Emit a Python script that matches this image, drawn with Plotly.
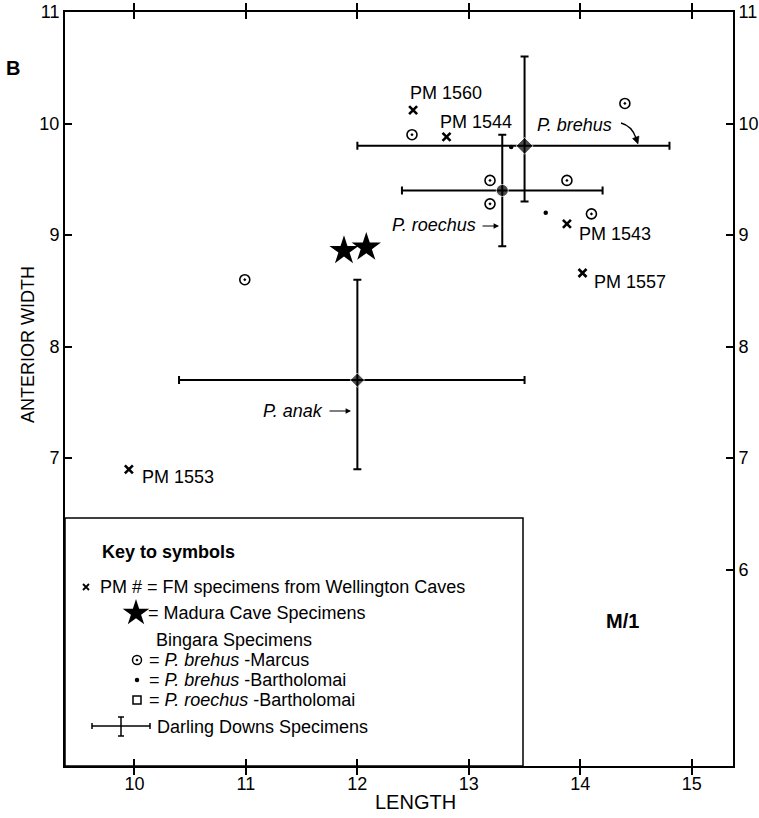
import plotly.graph_objects as go

# ---------------- data ----------------
pm_ids = ["PM 1560", "PM 1544", "PM 1543", "PM 1557", "PM 1553"]
pm_length = [12.50, 12.80, 13.88, 14.02, 9.95]
pm_width = [10.12, 9.88, 9.10, 8.66, 6.90]

madura_length = [11.88, 12.08]
madura_width = [8.86, 8.89]

marcus_length = [14.40, 12.49, 13.19, 13.19, 13.88, 14.10, 10.99]
marcus_width = [10.18, 9.90, 9.49, 9.28, 9.49, 9.19, 8.60]

barth_length = [13.38, 13.69]
barth_width = [9.79, 9.20]

dd_names = ["P. anak", "P. roechus", "P. brehus"]
dd_length = [12.0, 13.3, 13.5]
dd_width = [7.7, 9.4, 9.8]
dd_length_min = [10.4, 12.4, 12.0]
dd_length_max = [13.5, 14.2, 14.8]
dd_width_min = [6.9, 8.9, 9.3]
dd_width_max = [8.6, 9.9, 10.6]

x_ticks = [10, 11, 12, 13, 14, 15]
y_ticks_left = [7, 8, 9, 10, 11]
y_ticks_right = [6, 7, 8, 9, 10, 11]

# ---------------- styling ----------------
W, H = 759, 818
L, R, T, B = 65, 733, 12, 766
FONT = "Liberation Sans, Arial, Helvetica, sans-serif"
X_RANGE = [9.377, 15.37]
Y_RANGE = [4.24, 11.0]


def px(x):
    return (x - L) / (R - L)


def py(y):
    return (B - y) / (B - T)


label_shift = {  # pixel offsets of the PM labels relative to their points
    "PM 1560": (-5, 17),
    "PM 1544": (-9, 15),
    "PM 1543": (10, -10),
    "PM 1557": (9, -9),
    "PM 1553": (11, -8),
}

fig = go.Figure()

# Darling Downs means with ranges
fig.add_trace(go.Scatter(
    x=dd_length, y=dd_width, mode="markers",
    marker=dict(symbol=["diamond", "circle", "diamond"], size=[11, 12, 13], color="black"),
    error_x=dict(type="data", symmetric=False,
                 array=[a - m for a, m in zip(dd_length_max, dd_length)],
                 arrayminus=[m - a for a, m in zip(dd_length_min, dd_length)],
                 thickness=2, width=4, color="black"),
    error_y=dict(type="data", symmetric=False,
                 array=[a - m for a, m in zip(dd_width_max, dd_width)],
                 arrayminus=[m - a for a, m in zip(dd_width_min, dd_width)],
                 thickness=2, width=4, color="black"),
    showlegend=False, hoverinfo="skip"))

# Wellington caves specimens
fig.add_trace(go.Scatter(
    x=pm_length, y=pm_width, mode="markers",
    marker=dict(symbol="x-thin", size=8, line=dict(width=2.6, color="black")),
    showlegend=False))

# Madura cave
fig.add_trace(go.Scatter(
    x=madura_length, y=madura_width, mode="markers",
    marker=dict(symbol="star", size=22, color="black"), showlegend=False))

# Bingara brehus Marcus
fig.add_trace(go.Scatter(
    x=marcus_length, y=marcus_width, mode="markers",
    marker=dict(symbol="circle-open-dot", size=10, color="black", line=dict(width=1.6)),
    showlegend=False))

# Bingara brehus Bartholomai
fig.add_trace(go.Scatter(
    x=barth_length, y=barth_width, mode="markers",
    marker=dict(symbol="circle", size=4.5, color="black"), showlegend=False))

# invisible trace to activate right-hand axis
fig.add_trace(go.Scatter(x=[dd_length[0]], y=[dd_width[0]], yaxis="y2", mode="markers",
                         marker=dict(opacity=0), showlegend=False, hoverinfo="skip"))

# ------------- legend key symbols (pixel space axes x3/y3) -------------
key_sym = [
    dict(symbol="x-thin", size=6, line=dict(width=1.8, color="black"), pos=(86, 587)),
    dict(symbol="star", size=20, color="black", pos=(136, 613)),
    dict(symbol="circle-open-dot", size=9, color="black", line=dict(width=1.5), pos=(137, 660)),
    dict(symbol="circle", size=4.5, color="black", pos=(137, 680)),
    dict(symbol="square-open", size=8, color="black", line=dict(width=1.5), pos=(137, 700)),
]
for k in key_sym:
    p = k.pop("pos")
    fig.add_trace(go.Scatter(x=[p[0]], y=[p[1]], xaxis="x3", yaxis="y3", mode="markers",
                             marker=k, showlegend=False, hoverinfo="skip"))

shapes = []
# legend box
shapes.append(dict(type="rect", xref="x3", yref="y3", x0=L, x1=523, y0=518, y1=B,
                   line=dict(color="black", width=1.5), fillcolor="white", layer="below"))
# darling downs key symbol
for (x0, y0, x1, y1) in [(92, 726, 150, 726), (92, 723, 92, 729), (150, 723, 150, 729),
                         (121, 717, 121, 736), (118, 717, 124, 717), (118, 736, 124, 736)]:
    shapes.append(dict(type="line", xref="x3", yref="y3", x0=x0, y0=y0, x1=x1, y1=y1,
                       line=dict(color="black", width=1.5)))
# curved arrow for P. brehus
shapes.append(dict(type="path", xref="x3", yref="y3", path="M 621 123 Q 632 126 636 138",
                   line=dict(color="black", width=1.3)))
shapes.append(dict(type="path", xref="x3", yref="y3",
                   path="M 638 144 L 639 136 L 632.5 138.5 Z",
                   line=dict(color="black", width=0.5), fillcolor="black"))

ann = []


def txt(x, y, s, size=18, xanchor="left", bold=False, italic=False, **kw):
    if bold:
        s = "<b>" + s + "</b>"
    if italic:
        s = "<i>" + s + "</i>"
    ann.append(dict(x=px(x), y=py(y), xref="paper", yref="paper", text=s, showarrow=False,
                    xanchor=xanchor, yanchor="middle",
                    font=dict(family=FONT, size=size, color="black"), **kw))


# PM labels anchored on points
for name, lx, ly in zip(pm_ids, pm_length, pm_width):
    dx, dy = label_shift[name]
    ann.append(dict(x=lx, y=ly, xref="x", yref="y", text=name, showarrow=False,
                    xanchor="left", yanchor="middle", xshift=dx, yshift=dy,
                    font=dict(family=FONT, size=18, color="black")))

# species labels
txt(535, 125, "P. brehus", italic=True)
txt(478, 225, "P. roechus", xanchor="right", italic=True)
txt(325, 411, "P. anak", xanchor="right", italic=True)
for (tx, ty, hx, hy) in [(481, 226, 499, 226), (328, 411, 351, 411)]:
    ann.append(dict(x=px(hx), y=py(hy), ax=tx - hx, ay=ty - hy, xref="paper", yref="paper",
                    axref="pixel", ayref="pixel",
                    text="", showarrow=True, arrowhead=2, arrowsize=0.9, arrowwidth=1.2,
                    arrowcolor="black"))

# legend texts
txt(100, 552, "Key to symbols", bold=True)
txt(98, 587, "PM # = FM specimens from Wellington Caves")
txt(146, 613, "= Madura Cave Specimens")
txt(154, 640, "Bingara Specimens")
txt(147, 660, "= <i>P. brehus</i> -Marcus")
txt(147, 680, "= <i>P. brehus</i> -Bartholomai")
txt(147, 700, "= <i>P. roechus</i> -Bartholomai")
txt(155, 727, "Darling Downs Specimens")

# panel labels and axis titles
txt(13, 68, "B", size=20, xanchor="center", bold=True)
txt(622, 621, "M/1", size=20, xanchor="center", bold=True)
txt(415, 802, "LENGTH", size=20, xanchor="center")
ann.append(dict(x=px(28), y=py(345), xref="paper", yref="paper", text="ANTERIOR WIDTH",
                showarrow=False, textangle=-90, xanchor="center", yanchor="middle",
                font=dict(family=FONT, size=18, color="black")))

axis_common = dict(showgrid=False, zeroline=False, showline=True, linecolor="black",
                   linewidth=2, ticks="inside", ticklen=7, tickwidth=2, tickcolor="black",
                   automargin=False,
                   tickfont=dict(family=FONT, size=18, color="black"))

fig.update_layout(
    template="none",
    width=W, height=H, autosize=False,
    margin=dict(l=L, r=W - R, t=T, b=H - B, pad=0),
    paper_bgcolor="white", plot_bgcolor="white",
    showlegend=False,
    xaxis=dict(range=X_RANGE, tickvals=x_ticks, mirror="allticks", **axis_common),
    yaxis=dict(range=Y_RANGE, tickvals=y_ticks_left, mirror=False, **axis_common),
    yaxis2=dict(range=Y_RANGE, tickvals=y_ticks_right, overlaying="y", side="right",
                anchor="x", **axis_common),
    xaxis3=dict(range=[L, R], overlaying="x", visible=False, fixedrange=True),
    yaxis3=dict(range=[B, T], overlaying="y", visible=False, fixedrange=True, anchor="x3"),
    shapes=shapes, annotations=ann,
)

fig.write_html("out.html")
